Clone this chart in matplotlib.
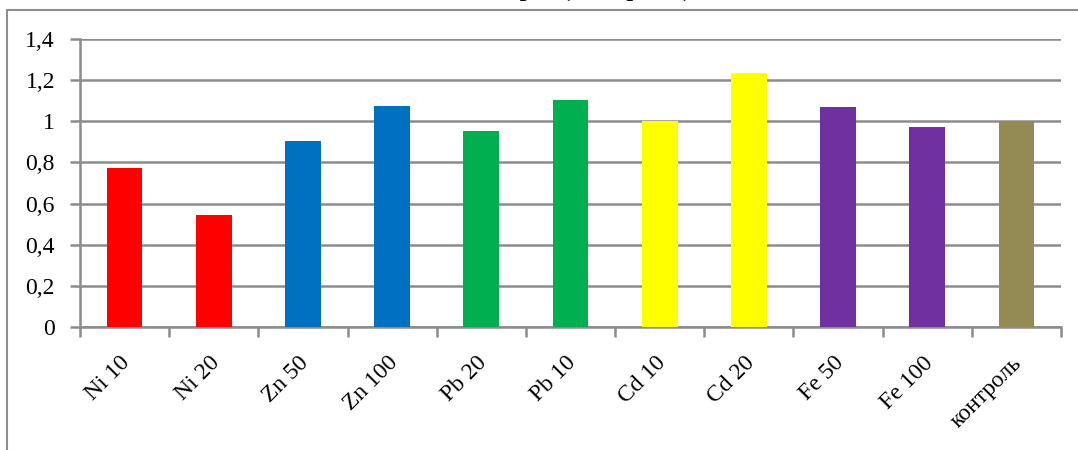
import matplotlib
matplotlib.use("Agg")
from matplotlib import pyplot as plt
from matplotlib.lines import Line2D
from matplotlib.transforms import ScaledTranslation
import numpy as np

# Данные
categories = ["Ni 10", "Ni 20", "Zn 50", "Zn 100", "Pb 20", "Pb 10",
              "Cd 10", "Cd 20", "Fe 50", "Fe 100", "контроль"]
values = [0.775, 0.545, 0.905, 1.075, 0.952, 1.105, 1.0, 1.235, 1.068, 0.972, 1.0]
colors = ["#FF0000", "#FF0000", "#0070C0", "#0070C0", "#00B050", "#00B050",
          "#FFFF00", "#FFFF00", "#7030A0", "#7030A0", "#948A54"]
yticks = [0, 0.2, 0.4, 0.6, 0.8, 1.0, 1.2, 1.4]
ytick_labels = ["0", "0,2", "0,4", "0,6", "0,8", "1", "1,2", "1,4"]
title = "Размеры (контроль)"

plt.rcParams["font.family"] = ["Liberation Serif", "DejaVu Serif"]
grey = "#8C8C8C"

W, H = 1078, 450
fig = plt.figure(figsize=(W / 100, H / 100), dpi=100)
ax = fig.add_axes([80 / W, 1 - 327 / H, 981 / W, 288 / H])

x = np.arange(len(categories))
ax.bar(x, values, width=0.4, color=colors, zorder=3)

ax.set_xlim(-0.5, len(categories) - 0.5)
ax.set_ylim(0, 1.4)
ax.set_yticks(yticks)
ax.set_yticklabels(ytick_labels, fontsize=17)
ax.yaxis.grid(True, color=grey, linewidth=1.8, zorder=0)

# деления между категориями, подписи по центру
ax.set_xticks(np.arange(len(categories) + 1) - 0.5)
ax.set_xticklabels([])
ax.set_xticks(x, minor=True)
ax.set_xticklabels(categories, minor=True, rotation=45, ha="right", va="top",
                   rotation_mode="anchor", fontsize=17)
ax.tick_params(axis="x", which="minor", length=0, pad=9)
ax.tick_params(axis="x", which="major", length=7, width=1.8, color=grey)
ax.tick_params(axis="y", length=7, width=1.8, color=grey, pad=11)

# сдвиг наклонных подписей чуть вниз и влево
shift = ScaledTranslation(-0.05, -0.13, fig.dpi_scale_trans)
for lbl in ax.get_xticklabels(minor=True):
    lbl.set_transform(lbl.get_transform() + shift)

for s in ["top", "right"]:
    ax.spines[s].set_visible(False)
for s in ["left", "bottom"]:
    ax.spines[s].set_color(grey)
    ax.spines[s].set_linewidth(1.8)

# рамка диаграммы
fig.add_artist(Line2D([7 / W, 7 / W, 1.0], [0.0, 1 - 10 / H, 1 - 10 / H],
                      color=grey, linewidth=1.5))

fig.text(570 / W, 1 + 5 / H, title, ha="center", va="baseline", fontsize=21)

fig.savefig("out.png", dpi=100)
